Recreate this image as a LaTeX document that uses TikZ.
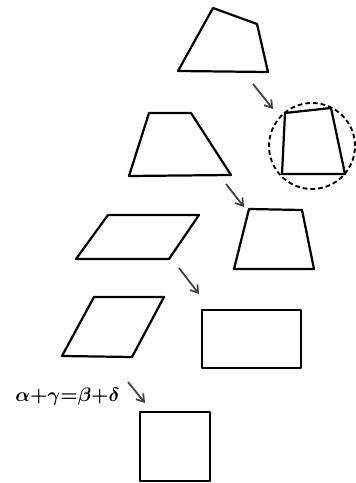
\documentclass[tikz,border=0pt]{standalone}
\usepackage{amsmath,amssymb}
\usepackage{tikz}
\usetikzlibrary{arrows.meta,positioning,calc}

\begin{document}
\begin{tikzpicture}[x=0.03cm, y=-0.03cm,
  fig/.style={line width=1.9pt,line join=round},
  arr/.style={-{Straight Barb[length=6pt,width=8pt]},line width=1.5pt,black!75},
  ring/.style={line width=1.6pt,dash pattern=on 4pt off 2.6pt}]
  \useasboundingbox (0,0) rectangle (355,483);
  %--- top quadrilateral ---
  \draw[fig] (213,8) -- (257,24) -- (268,72) -- (178,71) -- cycle;
  \coordinate (a1s) at (253,84);
  \coordinate (a1e) at (273,109);
  \draw[arr] (a1s) -- (a1e);
  %--- circled quadrilateral ---
  \draw[ring] (312,146) circle[radius=1.29cm];
  \draw[fig] (285,113) -- (331,108) -- (345,174) -- (282,174) -- cycle;
  %--- trapezoids ---
  \draw[fig] (149,113) -- (191,113) -- (231,175) -- (129,176) -- cycle;
  \coordinate (a2s) at (226,184);
  \coordinate (a2e) at (244,207);
  \draw[arr] (a2s) -- (a2e);
  \draw[fig] (249,209) -- (302,210) -- (314,269) -- (234,269) -- cycle;
  %--- parallelograms ---
  \draw[fig] (108,215) -- (199,215) -- (169,259) -- (76,259) -- cycle;
  \coordinate (a3s) at (179,268);
  \coordinate (a3e) at (199,294);
  \draw[arr] (a3s) -- (a3e);
  \draw[fig] (94,297) -- (164,297) -- (132,357) -- (62,356) -- cycle;
  \draw[fig] (202,310) rectangle (301,368);
  %--- square and angle sum ---
  \node[scale=1.66,font=\boldmath,inner sep=0pt] (eq) at (67.5,397) {$\alpha{+}\gamma{=}\beta{+}\delta$};
  \coordinate (a4s) at (128,382);
  \coordinate (a4e) at (145,403);
  \draw[arr] (a4s) -- (a4e);
  \draw[fig] (140,412) rectangle (210,481);
\end{tikzpicture}
\end{document}
